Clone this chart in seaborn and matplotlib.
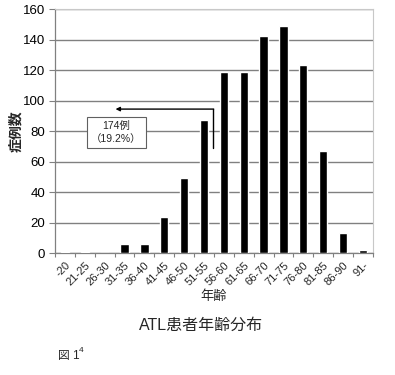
import pandas as pd
import seaborn as sns
import matplotlib.pyplot as plt

# age groups and number of ATL cases
ages = ["-20", "21-25", "26-30", "31-35", "36-40", "41-45", "46-50", "51-55",
        "56-60", "61-65", "66-70", "71-75", "76-80", "81-85", "86-90", "91-"]
cases = [1, 1, 0, 6, 6, 24, 49, 87, 119, 119, 142, 149, 123, 67, 13, 2]
yticks = [0, 20, 40, 60, 80, 100, 120, 140, 160]

df = pd.DataFrame({"age": ages, "cases": cases})

sns.set_theme(style="white")
plt.rcParams["font.family"] = ["Liberation Sans", "Noto Sans CJK JP"]

fig = plt.figure(figsize=(3.95, 3.75), dpi=100)
ax = fig.add_axes([0.139, 0.325, 0.805, 0.651])

sns.barplot(data=df, x="age", y="cases", color="black", width=0.42,
            saturation=1, ax=ax, zorder=3)

ax.set_ylim(0, 160)
ax.set_xlim(-0.5, len(ages) - 0.5)
ax.set_yticks(yticks)
ax.yaxis.grid(True, color="#808080", linewidth=1.0, zorder=0)
ax.tick_params(axis="y", labelsize=9.5, length=4, width=0.8, color="#808080",
               left=True, pad=3, labelcolor="black")
ax.set_xticks(range(len(ages)))
ax.set_xticklabels(ages, rotation=45, ha="right", va="top",
                   rotation_mode="anchor", fontsize=8)
ax.tick_params(axis="x", length=0, pad=5)
ax.set_xticks([i - 0.5 for i in range(len(ages) + 1)], minor=True)
ax.tick_params(axis="x", which="minor", bottom=True, length=3, width=0.8,
               color="#808080")

for side in ["top", "right"]:
    ax.spines[side].set_color("#c8c8c8")
    ax.spines[side].set_linewidth(0.8)
for side in ["left", "bottom"]:
    ax.spines[side].set_color("#808080")
    ax.spines[side].set_linewidth(0.9)

ax.set_xlabel("年齢", fontsize=9.5, labelpad=2)
ax.set_ylabel("症例数", fontsize=10, fontweight="bold")
ax.yaxis.set_label_coords(-0.1, 0.5)

# annotation: cases up to 55 years
ax.plot([7.44, 7.44], [69, 94.4], color="black", linewidth=1.0, zorder=4)
ax.annotate("", xy=(2.55, 94.4), xytext=(7.49, 94.4),
            arrowprops=dict(arrowstyle="-|>", color="black", lw=1.0,
                            mutation_scale=6, shrinkA=0, shrinkB=0),
            zorder=4)
ax.text(2.6, 79, "174例\n（19.2%）", fontsize=7.5, ha="center", va="center",
        linespacing=1.3, zorder=5,
        bbox=dict(boxstyle="square,pad=0.45", fc="white", ec="#606060",
                  lw=0.8))

fig.text(0.51, 0.133, "ATL患者年齢分布", ha="center", va="center",
         fontsize=11.5)
fig.text(0.148, 0.052, "図 1", ha="left", va="center", fontsize=8.5)
fig.text(0.199, 0.066, "4", ha="left", va="center", fontsize=6)

fig.savefig("out.png", dpi=100)
